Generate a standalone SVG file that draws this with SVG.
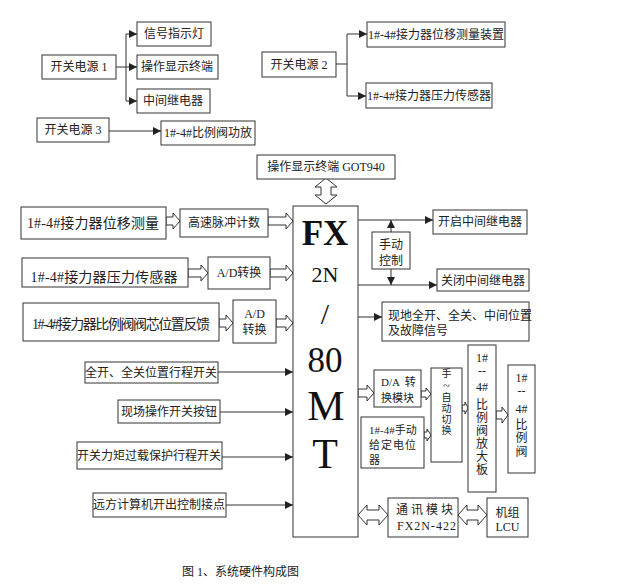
<svg xmlns="http://www.w3.org/2000/svg" width="619" height="584" viewBox="0 0 619 584">
<style>
.b{fill:#fff;stroke:#333;stroke-width:1}
.t{font-family:"Liberation Serif","Noto Sans CJK SC",serif;font-size:12px;fill:#222}
.m{text-anchor:middle}
.big{font-size:14px}
.sm{font-size:11px}
.xs{font-size:10px}
.l{stroke:#333;stroke-width:1;fill:none}
.ha{fill:#fff;stroke:#333;stroke-width:1}
.fx{font-family:"Liberation Serif",serif;fill:#111;text-anchor:middle}
</style>
<defs>
<marker id="ar" viewBox="0 0 8 8" refX="8" refY="4" markerWidth="8" markerHeight="8" markerUnits="userSpaceOnUse" orient="auto">
<path d="M0,0 L8,4 L0,8 Z" fill="#222"/>
</marker>
</defs>
<rect width="619" height="584" fill="#fff"/>

<g id="connectors">
<line class="l" x1="116" y1="67" x2="137" y2="67" marker-end="url(#ar)"/>
<line class="l" x1="126" y1="34" x2="126" y2="101"/>
<line class="l" x1="126" y1="34" x2="137" y2="34" marker-end="url(#ar)"/>
<line class="l" x1="126" y1="101" x2="137" y2="101" marker-end="url(#ar)"/>
<line class="l" x1="109" y1="131" x2="161" y2="131" marker-end="url(#ar)"/>
<line class="l" x1="336" y1="64" x2="347" y2="64"/>
<line class="l" x1="347" y1="34" x2="347" y2="96"/>
<line class="l" x1="347" y1="34" x2="367" y2="34" marker-end="url(#ar)"/>
<line class="l" x1="347" y1="96" x2="366" y2="96" marker-end="url(#ar)"/>
<polygon class="ha" points="326,178 337,187 331,187 331,195 337,195 326,204 315,195 321,195 321,187 315,187"/>
<polygon class="ha" points="166,217 173,217 173,213 180,221 173,229 173,225 166,225"/>
<polygon class="ha" points="268,217 286,217 286,213 293,221 286,229 286,225 268,225"/>
<polygon class="ha" points="188,269 201,269 201,265 208,273 201,281 201,277 188,277"/>
<polygon class="ha" points="270,269 286,269 286,265 293,273 286,281 286,277 270,277"/>
<polygon class="ha" points="219,319 226,319 226,315 233,323 226,331 226,327 219,327"/>
<polygon class="ha" points="276,319 286,319 286,315 293,323 286,331 286,327 276,327"/>
<line class="l" x1="358" y1="220" x2="433" y2="220" marker-end="url(#ar)"/>
<line class="l" x1="358" y1="285" x2="437" y2="285" marker-end="url(#ar)"/>
<line class="l" x1="391" y1="232" x2="391" y2="220" marker-end="url(#ar)"/>
<line class="l" x1="391" y1="269" x2="391" y2="285" marker-end="url(#ar)"/>
<line class="l" x1="358" y1="317" x2="382" y2="317" marker-end="url(#ar)"/>
<line class="l" x1="218" y1="372" x2="293" y2="372" marker-end="url(#ar)"/>
<line class="l" x1="220" y1="412" x2="293" y2="412" marker-end="url(#ar)"/>
<line class="l" x1="222" y1="457" x2="293" y2="457" marker-end="url(#ar)"/>
<line class="l" x1="226" y1="505" x2="293" y2="505" marker-end="url(#ar)"/>
<polygon class="ha" points="358,389 367,389 367,385 374,393 367,401 367,397 358,397"/>
<polygon class="ha" points="421,391 426,391 426,388 431,394 426,400 426,397 421,397"/>
<polygon class="ha" points="424,432 427,432 427,429 431,435 427,441 427,438 424,438"/>
<polygon class="ha" points="462,405 465,405 465,402 468,408 465,414 465,411 462,411"/>
<polygon class="ha" points="496,411 502,411 502,407 508,415 502,423 502,419 496,419"/>
<polygon class="ha" points="358,515 367,505 367,510 379,510 379,505 388,515 379,525 379,520 367,520 367,525"/>
<polygon class="ha" points="458,515 467,505 467,510 478,510 478,505 487,515 478,525 478,520 467,520 467,525"/>
</g>

<g id="psu1"><rect class="b" x="42" y="55" width="74" height="24"/><text class="t m" x="79" y="71">开关电源 1</text></g>
<g id="signal-lamp"><rect class="b" x="137" y="22" width="74" height="24"/><text class="t m" x="174" y="38">信号指示灯</text></g>
<g id="op-terminal"><rect class="b" x="137" y="55" width="81" height="24"/><text class="t m" x="177" y="71">操作显示终端</text></g>
<g id="relay"><rect class="b" x="137" y="89" width="73" height="24"/><text class="t m" x="173" y="105">中间继电器</text></g>
<g id="psu3"><rect class="b" x="37" y="118" width="72" height="24"/><text class="t m" x="73" y="134">开关电源 3</text></g>
<g id="valve-amp"><rect class="b" x="161" y="121" width="94" height="24"/><text class="t m" x="208" y="137">1#-4#比例阀功放</text></g>
<g id="psu2"><rect class="b" x="262" y="52" width="74" height="25"/><text class="t m" x="299" y="69">开关电源 2</text></g>
<g id="disp-dev"><rect class="b" x="367" y="22" width="138" height="25"/><text class="t m" x="436" y="39">1#-4#接力器位移测量装置</text></g>
<g id="press-sensor"><rect class="b" x="366" y="83" width="126" height="25"/><text class="t m" x="429" y="100">1#-4#接力器压力传感器</text></g>

<g id="got940"><rect class="b" x="257" y="155" width="138" height="24"/><text class="t m" x="326" y="171">操作显示终端 GOT940</text></g>
<g id="plc"><rect class="b" x="293" y="206" width="65" height="331"/>
<text class="fx" x="325" y="245" font-size="35" font-weight="bold">FX</text>
<text class="fx" x="325" y="282" font-size="22">2N</text>
<text class="fx" x="325" y="324" font-size="30">/</text>
<text class="fx" x="325" y="372" font-size="35">80</text>
<text class="fx" x="326" y="420" font-size="42">M</text>
<text class="fx" x="325" y="468" font-size="42">T</text>
</g>

<g id="in-disp"><rect class="b" x="21" y="207" width="145" height="32"/><text class="t m big" x="93" y="228" textLength="132" lengthAdjust="spacing">1#-4#接力器位移测量</text></g>
<g id="hs-count"><rect class="b" x="180" y="209" width="88" height="28"/><text class="t m" x="224" y="227">高速脉冲计数</text></g>
<g id="in-press"><rect class="b" x="22" y="258" width="166" height="29"/><text class="t m big" x="104" y="282" textLength="147" lengthAdjust="spacing">1#-4#接力器压力传感器</text></g>
<g id="ad1"><rect class="b" x="208" y="257" width="62" height="32"/><text class="t m" x="239" y="277">A/D转换</text></g>
<g id="in-valve"><rect class="b" x="23" y="303" width="196" height="38"/><text class="t m big" x="121" y="329" textLength="178" lengthAdjust="spacing">1#-4#接力器比例阀阀芯位置反馈</text></g>
<g id="ad2"><rect class="b" x="233" y="300" width="43" height="43"/><text class="t m" x="254.5" y="318">A/D</text><text class="t m" x="254.5" y="334">转换</text></g>

<g id="open-relay"><rect class="b" x="433" y="210" width="94" height="24"/><text class="t m" x="480" y="226">开启中间继电器</text></g>
<g id="manual"><rect class="b" x="372" y="232" width="38" height="37"/><text class="t m" x="391" y="249">手动</text><text class="t m" x="391" y="265">控制</text></g>
<g id="close-relay"><rect class="b" x="437" y="269" width="92" height="22"/><text class="t m" x="483" y="285">关闭中间继电器</text></g>
<g id="local-sig"><rect class="b" x="382" y="302" width="147" height="39"/><text class="t" x="388" y="320">现地全开、全关、中间位置</text><text class="t" x="388" y="335">及故障信号</text></g>

<g id="sw-limit"><rect class="b" x="85" y="362" width="133" height="21"/><text class="t m" x="151" y="377">全开、全关位置行程开关</text></g>
<g id="sw-local"><rect class="b" x="118" y="400" width="102" height="23"/><text class="t m" x="169" y="416">现场操作开关按钮</text></g>
<g id="sw-torque"><rect class="b" x="77" y="442" width="145" height="27"/><text class="t m" x="149" y="460">开关力矩过载保护行程开关</text></g>
<g id="remote"><rect class="b" x="93" y="493" width="133" height="24"/><text class="t m" x="159" y="509">远方计算机开出控制接点</text></g>

<g id="da"><rect class="b" x="374" y="370" width="47" height="37"/><text class="t sm" x="381" y="386" xml:space="preserve">D/A  转</text><text class="t sm" x="381" y="402">换模块</text></g>
<g id="pot"><rect class="b" x="361" y="417" width="63" height="51"/><text class="t sm" x="369" y="434">1#-4#手动</text><text class="t sm" x="369" y="449" letter-spacing="1">给定电位</text><text class="t sm" x="369" y="464">器</text></g>
<g id="auto-sw"><rect class="b" x="431" y="368" width="31" height="94"/>
<text class="t xs m" x="446.5" y="377">手</text><text class="t m" x="446.5" y="390" font-size="7">~</text><text class="t xs m" x="446.5" y="401">自</text><text class="t xs m" x="446.5" y="412">动</text><text class="t xs m" x="446.5" y="423">切</text><text class="t xs m" x="446.5" y="434">换</text></g>
<g id="amp-board"><rect class="b" x="468" y="345" width="28" height="147"/>
<text class="t m" x="482" y="362">1#</text><text class="t m" x="482" y="375">--</text><text class="t m" x="482" y="391">4#</text><text class="t m" x="482" y="409">比</text><text class="t m" x="482" y="422">例</text><text class="t m" x="482" y="435">阀</text><text class="t m" x="482" y="448">放</text><text class="t m" x="482" y="461">大</text><text class="t m" x="482" y="474">板</text></g>
<g id="valve"><rect class="b" x="508" y="365" width="27" height="108"/>
<text class="t m" x="521.5" y="382">1#</text><text class="t m" x="521.5" y="395">--</text><text class="t m" x="521.5" y="413">4#</text><text class="t m" x="521.5" y="429">比</text><text class="t m" x="521.5" y="442">例</text><text class="t m" x="521.5" y="456">阀</text></g>
<g id="comm"><rect class="b" x="388" y="498" width="70" height="39"/><text class="t" x="396" y="514" xml:space="preserve">通 讯 模 块</text><text class="t" x="397" y="530" letter-spacing="1">FX2N-422</text></g>
<g id="lcu"><rect class="b" x="487" y="498" width="41" height="39"/><text class="t m" x="507.5" y="517">机组</text><text class="t m" x="507.5" y="531">LCU</text></g>

<g id="caption"><text class="t" x="182" y="576" font-size="14">图 1、系统硬件构成图</text></g>
</svg>
